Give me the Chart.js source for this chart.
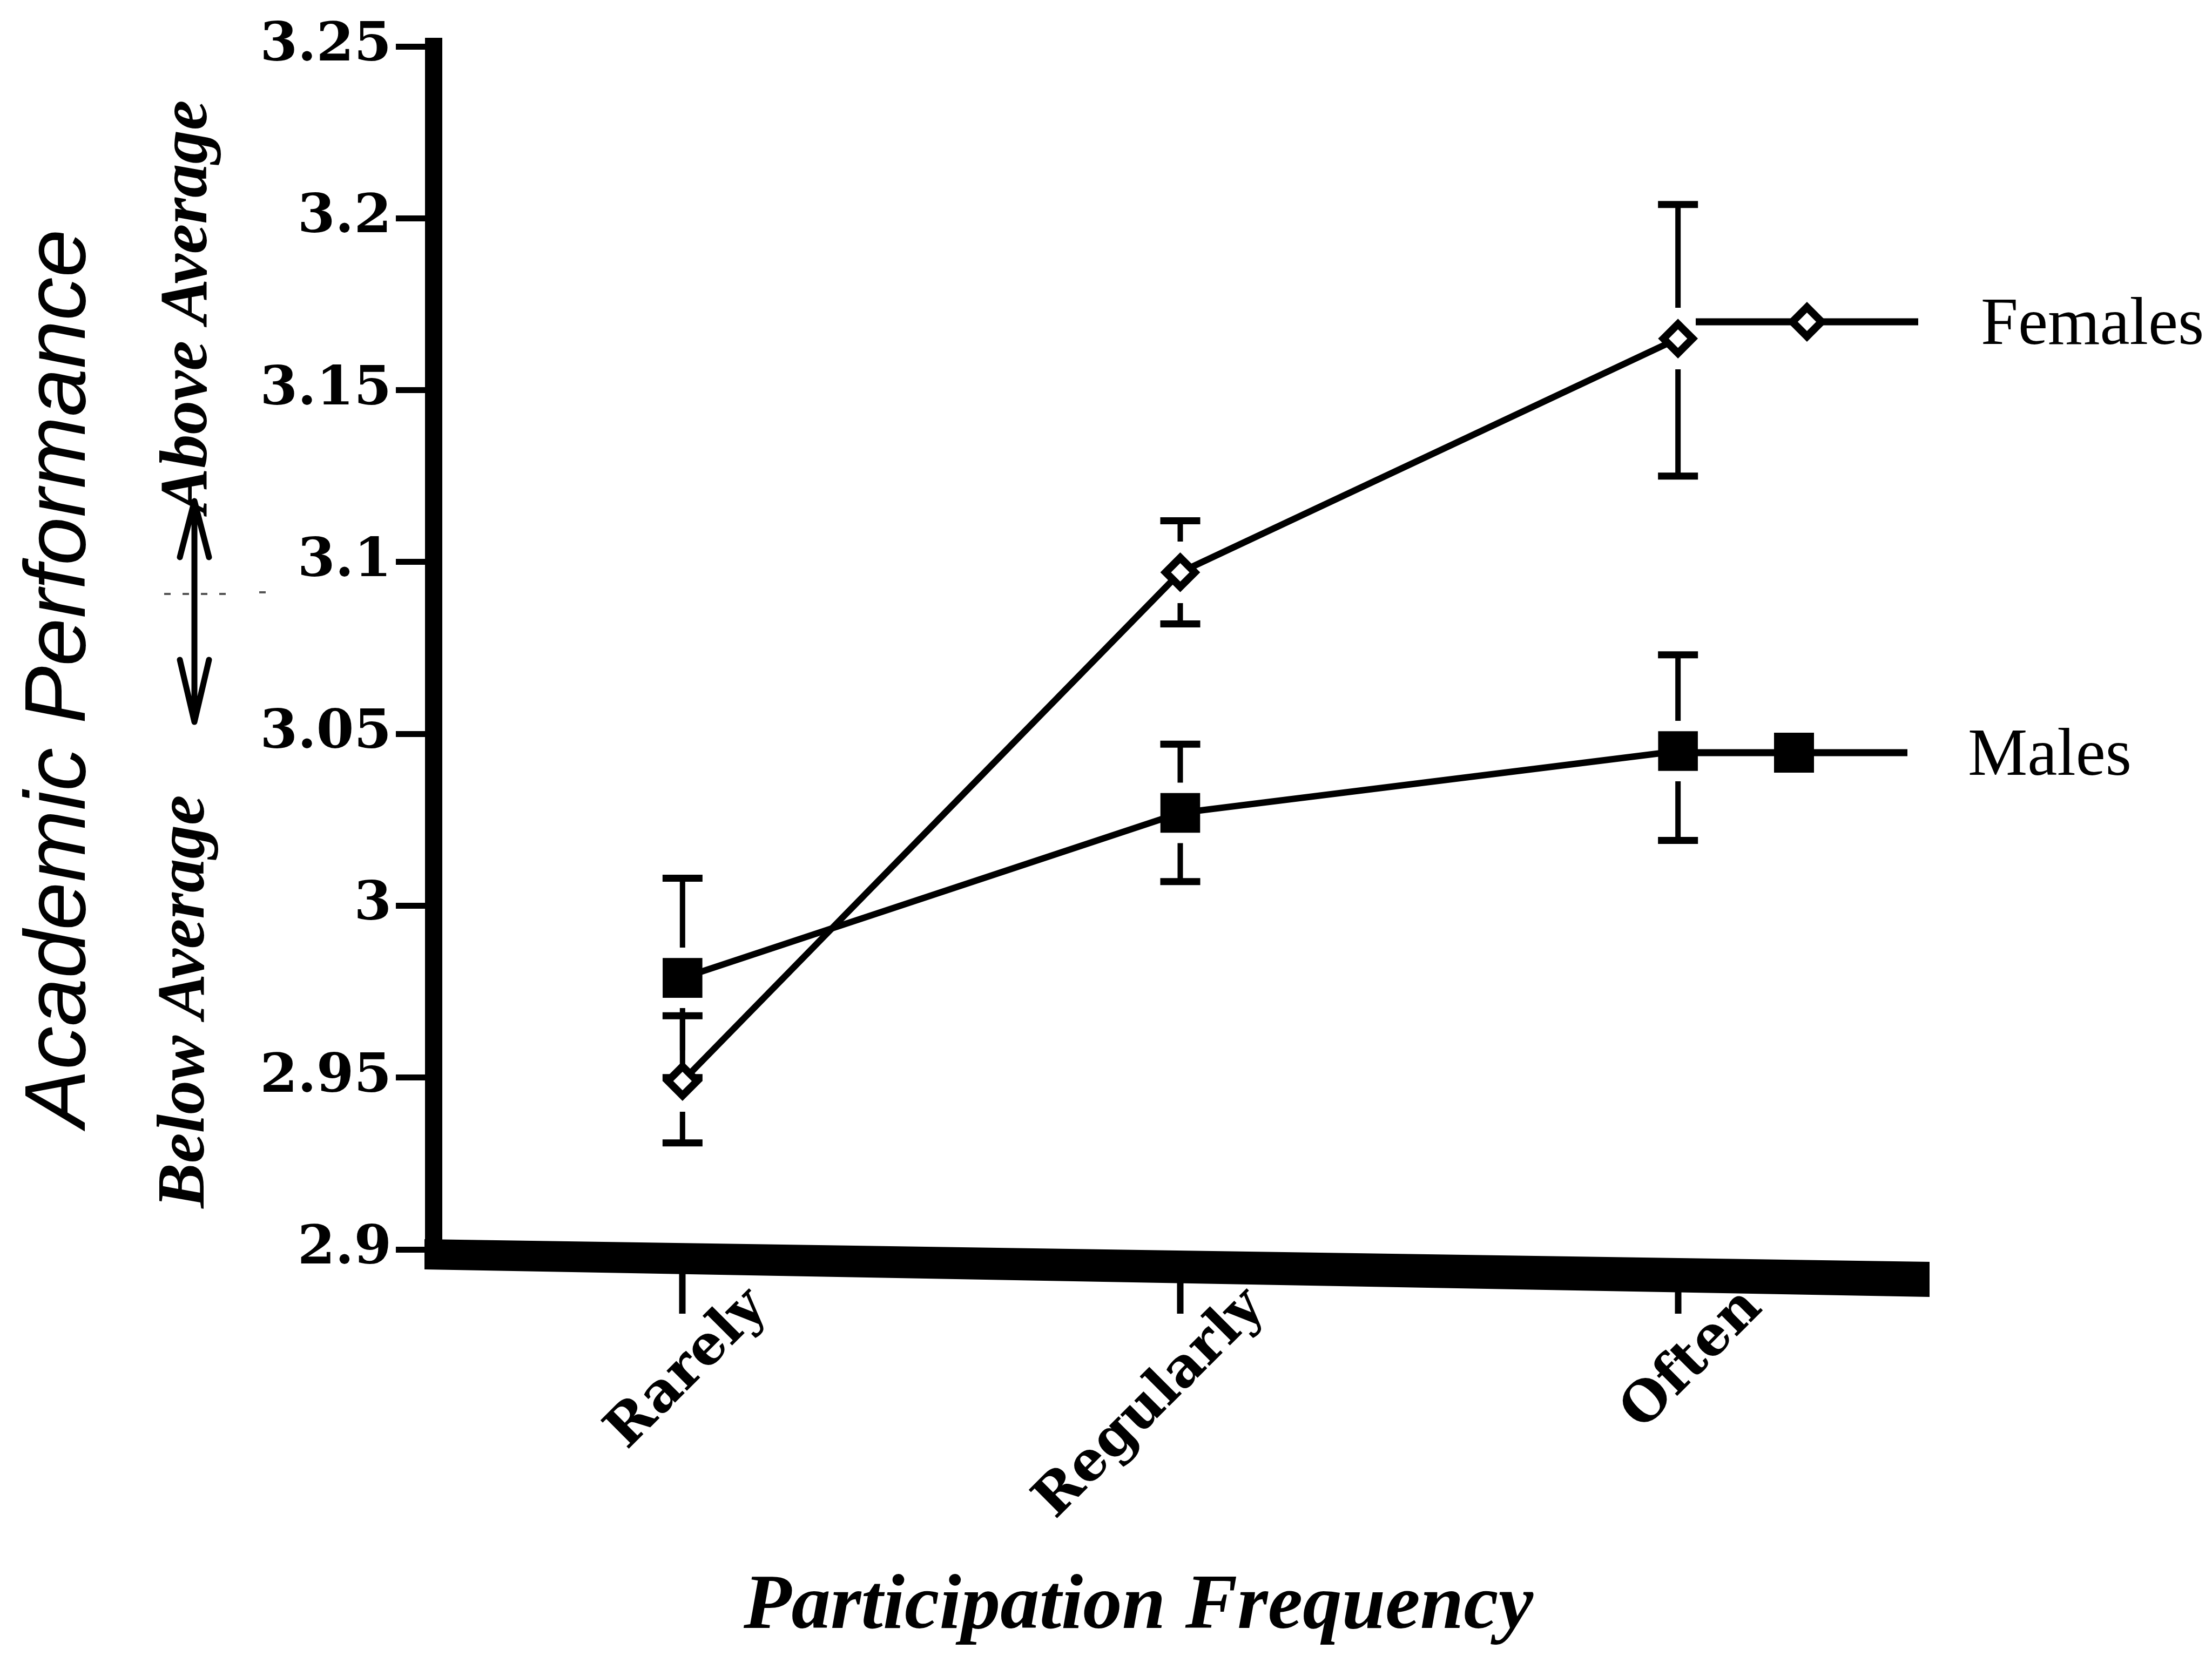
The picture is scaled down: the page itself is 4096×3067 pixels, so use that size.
<!DOCTYPE html>
<html>
<head>
<meta charset="utf-8">
<title>Academic Performance by Participation Frequency</title>
<script src="https://cdn.jsdelivr.net/npm/chart.js@4.4.1/dist/chart.umd.min.js"></script>
<style>
    html, body { margin: 0; padding: 0; background: #fff; }
    #wrap { width: 4096px; height: 3067px; position: relative; }
</style>
</head>
<body>
<div id="wrap"><canvas id="perfChart"></canvas></div>
<script>
const categories = ['Rarely', 'Regularly', 'Often'];

// group means with the ends of their error bars
const femaleMeans = [2.949, 3.097, 3.165];
const femaleUpper = [2.968, 3.112, 3.204];
const femaleLower = [2.931, 3.082, 3.125];

const maleMeans = [2.979, 3.027, 3.045];
const maleUpper = [3.008, 3.047, 3.073];
const maleLower = [2.950, 3.007, 3.019];

const yTickLabels = ['2.9', '2.95', '3', '3.05', '3.1', '3.15', '3.2', '3.25'];
const seriesNames = ['Females', 'Males'];

document.addEventListener("DOMContentLoaded", function () {
    const ctx = document.getElementById('perfChart').getContext('2d');

    function diamond(c, x, y, r, lw) {
        c.beginPath();
        c.moveTo(x - r, y);
        c.lineTo(x, y - r);
        c.lineTo(x + r, y);
        c.lineTo(x, y + r);
        c.closePath();
        c.fillStyle = '#fff';
        c.fill();
        c.lineWidth = lw;
        c.strokeStyle = '#000';
        c.stroke();
    }

    function square(c, x, y, half) {
        c.fillStyle = '#000';
        c.fillRect(x - half, y - half, half * 2, half * 2);
    }

    // whiskers stop short of the marker, caps on both ends
    const errorBars = {
        id: 'errorBars',
        beforeDatasetsDraw(chart) {
            const c = chart.ctx;
            const xs = chart.scales.x, ys = chart.scales.y;
            const groups = [
                { means: femaleMeans, upper: femaleUpper, lower: femaleLower, gap: 57 },
                { means: maleMeans, upper: maleUpper, lower: maleLower, gap: 56 }
            ];
            c.save();
            c.strokeStyle = '#000';
            groups.forEach(g => {
                g.means.forEach((m, i) => {
                    const x = xs.getPixelForValue(i);
                    const ym = ys.getPixelForValue(m);
                    const yu = ys.getPixelForValue(g.upper[i]);
                    const yl = ys.getPixelForValue(g.lower[i]);
                    c.lineWidth = 10;
                    c.beginPath();
                    if (ym - yu > g.gap) { c.moveTo(x, yu); c.lineTo(x, ym - g.gap); }
                    if (yl - ym > g.gap) { c.moveTo(x, ym + g.gap); c.lineTo(x, yl); }
                    c.stroke();
                    c.lineWidth = 13;
                    c.beginPath();
                    c.moveTo(x - 37, yu); c.lineTo(x + 37, yu);
                    c.moveTo(x - 37, yl); c.lineTo(x + 37, yl);
                    c.stroke();
                });
            });
            c.restore();
        }
    };

    // heavy x axis line (runs slightly downhill to the right)
    const xAxisLine = {
        id: 'xAxisLine',
        afterDraw(chart) {
            const c = chart.ctx;
            const area = chart.chartArea;
            const l = area.left - 17, r = area.right + 5;
            c.save();
            c.fillStyle = '#000';
            c.beginPath();
            c.moveTo(l, area.bottom - 19);
            c.lineTo(r, area.bottom + 23);
            c.lineTo(r, area.bottom + 88);
            c.lineTo(l, area.bottom + 37);
            c.closePath();
            c.fill();
            // y axis line reaches a little above the top tick
            c.fillRect(area.left - 16, area.top - 10, 32, 12);
            c.restore();
        }
    };

    // axis titles, the above/below arrow and the line-end legend
    const annotations = {
        id: 'annotations',
        afterDraw(chart) {
            const c = chart.ctx;
            c.save();
            c.fillStyle = '#000';
            c.textAlign = 'center';
            c.textBaseline = 'middle';

            c.save();
            c.translate(112, 1256);
            c.rotate(-Math.PI / 2);
            c.font = 'italic 160px "Liberation Sans"';
            c.fillText('Academic Performance', 0, 0);
            c.restore();

            c.font = 'italic bold 125px "Liberation Serif"';
            c.save();
            c.translate(350, 568);
            c.rotate(-Math.PI / 2);
            c.fillText('Above Average', 0, 0);
            c.restore();
            c.save();
            c.translate(345, 1855);
            c.rotate(-Math.PI / 2);
            c.fillText('Below Average', 0, 0);
            c.restore();

            // double-headed arrow
            const ax = 360, top = 928, bot = 1337;
            c.strokeStyle = '#000';
            c.lineWidth = 11;
            c.lineJoin = 'round';
            c.lineCap = 'round';
            c.beginPath();
            c.moveTo(ax, top); c.lineTo(ax, bot);
            c.moveTo(ax - 27, top + 104); c.lineTo(ax, top); c.lineTo(ax + 27, top + 104);
            c.moveTo(ax - 27, bot - 115); c.lineTo(ax, bot); c.lineTo(ax + 27, bot - 115);
            c.stroke();

            c.strokeStyle = '#555';
            c.lineWidth = 4;
            c.lineCap = 'butt';
            c.setLineDash([12, 22]);
            c.beginPath();
            c.moveTo(304, 1100); c.lineTo(436, 1100);
            c.moveTo(480, 1097); c.lineTo(496, 1097);
            c.stroke();
            c.setLineDash([]);

            c.font = 'italic bold 145px "Liberation Serif"';
            c.fillText('Participation Frequency', 2108, 2978);

            // legend rows next to the line ends
            c.strokeStyle = '#000';
            c.lineWidth = 13;
            c.lineJoin = 'miter';
            c.beginPath();
            c.moveTo(3140, 596); c.lineTo(3552, 596);
            c.moveTo(3134, 1394); c.lineTo(3532, 1394);
            c.stroke();
            diamond(c, 3346, 596, 27, 14);
            square(c, 3322, 1394, 37);

            c.textAlign = 'left';
            c.font = '124px "Liberation Serif"';
            c.fillText(seriesNames[0], 3668, 604);
            c.fillText(seriesNames[1], 3644, 1402);
            c.restore();
        }
    };

    new Chart(ctx, {
        type: 'line',
        data: {
            labels: categories,
            datasets: [{
                label: seriesNames[0],
                data: femaleMeans,
                borderColor: '#000',
                borderWidth: 12,
                tension: 0,
                pointStyle: 'rectRot',
                pointRadius: 27,
                pointBorderWidth: 14,
                pointBackgroundColor: '#fff',
                pointBorderColor: '#000'
            }, {
                label: seriesNames[1],
                data: maleMeans,
                borderColor: '#000',
                borderWidth: 12,
                tension: 0,
                pointStyle: 'rect',
                pointRadius: 52,
                pointBorderWidth: 0,
                pointBackgroundColor: '#000',
                pointBorderColor: '#000'
            }]
        },
        options: {
            responsive: true,
            maintainAspectRatio: false,
            animation: false,
            layout: {
                padding: { top: 86, right: 528, left: 0, bottom: 0 }
            },
            plugins: {
                legend: { display: false },
                tooltip: { enabled: false }
            },
            scales: {
                x: {
                    offset: true,
                    afterFit: function (scale) { scale.height = 753; },
                    // invisible border: keeps the tick marks starting under the drawn axis line
                    border: { display: true, color: 'rgba(0,0,0,0)', width: 44 },
                    grid: {
                        offset: false,
                        drawOnChartArea: false,
                        drawTicks: true,
                        tickLength: 119,
                        tickWidth: 12,
                        tickColor: '#000'
                    },
                    ticks: {
                        color: '#000',
                        maxRotation: 45,
                        minRotation: 45,
                        padding: -70,
                        labelOffset: 140,
                        font: { family: 'DejaVu Serif', weight: 'bold', size: 102 }
                    }
                },
                y: {
                    min: 2.9,
                    max: 3.25,
                    afterFit: function (scale) { scale.width = 803; },
                    border: { display: true, color: '#000', width: 32 },
                    grid: {
                        drawOnChartArea: false,
                        drawTicks: true,
                        tickLength: 70,
                        tickWidth: 11,
                        tickColor: '#000'
                    },
                    ticks: {
                        stepSize: 0.05,
                        color: '#000',
                        padding: 8,
                        font: { family: 'DejaVu Serif', weight: 'bold', size: 100 },
                        callback: function (value, index) { return yTickLabels[index]; }
                    }
                }
            }
        },
        plugins: [errorBars, xAxisLine, annotations]
    });
});
</script>
</body>
</html>
